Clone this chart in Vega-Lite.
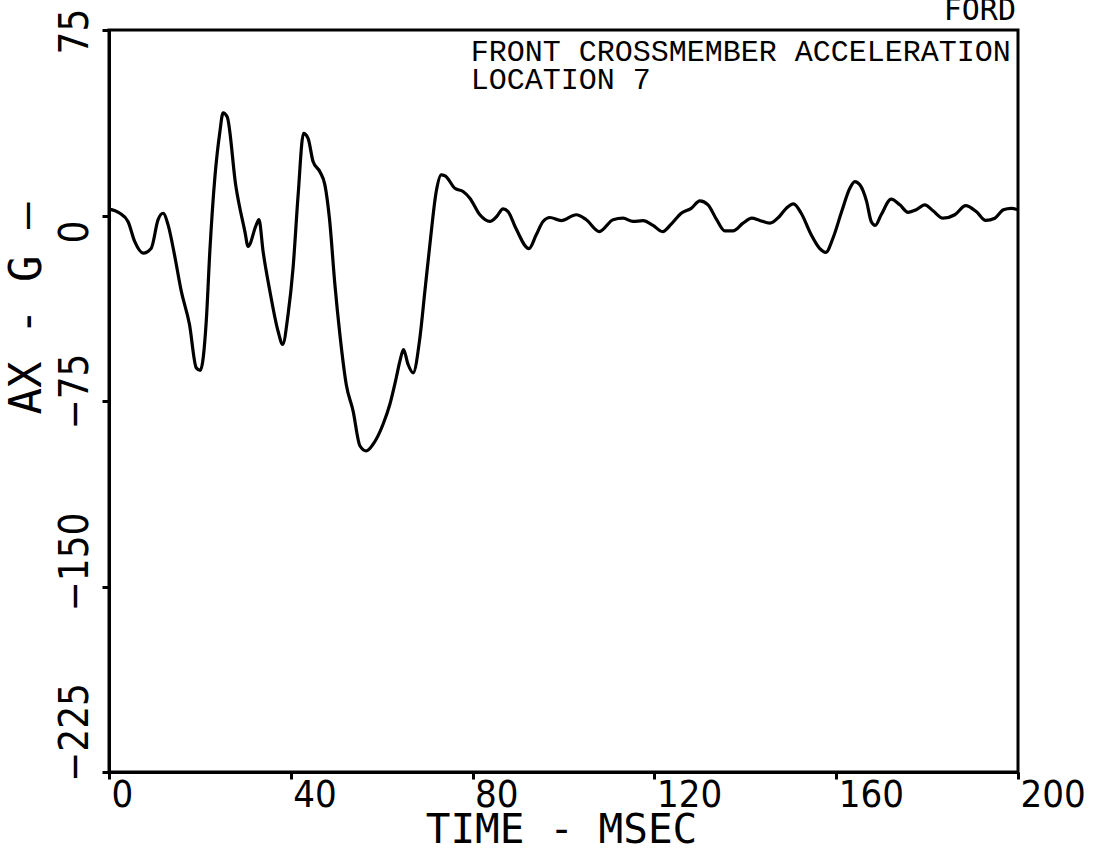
{
  "$schema": "https://vega.github.io/schema/vega-lite/v6.json",
  "width": 909,
  "height": 742,
  "autosize": "none",
  "padding": {"left": 109, "top": 30, "right": 76, "bottom": 79},
  "background": "white",
  "config": {
    "view": {"stroke": "black", "strokeWidth": 3},
    "axis": {
      "grid": false,
      "domainColor": "black",
      "domainWidth": 3,
      "tickColor": "black",
      "tickWidth": 3,
      "tickSize": 7,
      "labelColor": "black",
      "titleColor": "black",
      "labelFont": "DejaVu Sans Condensed",
      "titleFont": "DejaVu Sans Mono",
      "labelFontWeight": "normal",
      "titleFontWeight": "normal"
    }
  },
  "datasets": {
    "curve": [
      {"t": 0, "v": 2.6}, {"t": 2.3, "v": 1.0}, {"t": 4.2, "v": -2.5}, {"t": 5.65, "v": -10.5},
      {"t": 7.5, "v": -15.2}, {"t": 9.3, "v": -13.2}, {"t": 10.8, "v": -1.7}, {"t": 11.9, "v": 0.9},
      {"t": 13.0, "v": -3.8}, {"t": 14.4, "v": -15.8}, {"t": 15.9, "v": -30.6}, {"t": 17.7, "v": -44},
      {"t": 19.2, "v": -61.6}, {"t": 20.1, "v": -62.6}, {"t": 21.4, "v": -42.7}, {"t": 22.2, "v": -14},
      {"t": 23.3, "v": 15.5}, {"t": 24.4, "v": 33.9}, {"t": 25.1, "v": 41.5}, {"t": 26.0, "v": 39.9},
      {"t": 27.9, "v": 12}, {"t": 29.9, "v": -6.5}, {"t": 30.6, "v": -12.5}, {"t": 32.4, "v": -3.8},
      {"t": 33.0, "v": -1.7}, {"t": 33.9, "v": -14.5}, {"t": 35.4, "v": -30.6}, {"t": 37.2, "v": -46.8},
      {"t": 38.2, "v": -52.1}, {"t": 39.4, "v": -40}, {"t": 40.5, "v": -21.2}, {"t": 41.6, "v": 8},
      {"t": 42.8, "v": 33.2}, {"t": 43.8, "v": 31.2}, {"t": 44.9, "v": 21.8}, {"t": 46.4, "v": 17.7},
      {"t": 47.5, "v": 12.4}, {"t": 48.5, "v": -1.1}, {"t": 49.7, "v": -27.9}, {"t": 50.8, "v": -48.1},
      {"t": 52.2, "v": -68.3}, {"t": 53.7, "v": -79}, {"t": 55.2, "v": -93.1}, {"t": 56.6, "v": -95.2},
      {"t": 58.1, "v": -92.5}, {"t": 60.3, "v": -84.4}, {"t": 61.8, "v": -76.3}, {"t": 63.2, "v": -65.6},
      {"t": 64.0, "v": -58.9}, {"t": 64.8, "v": -54.2}, {"t": 65.8, "v": -60.2}, {"t": 66.9, "v": -63.6},
      {"t": 68.4, "v": -49.5}, {"t": 69.5, "v": -30.6}, {"t": 70.6, "v": -11.8}, {"t": 72.0, "v": 9.7},
      {"t": 73.1, "v": 16.4}, {"t": 73.9, "v": 16.1}, {"t": 76.1, "v": 11}, {"t": 77.9, "v": 9.7},
      {"t": 79.4, "v": 7}, {"t": 81.6, "v": 0.3}, {"t": 83.8, "v": -2.4}, {"t": 85.3, "v": -0.4},
      {"t": 86.7, "v": 2.7}, {"t": 87.8, "v": 1.6}, {"t": 89.6, "v": -5.5}, {"t": 92.4, "v": -13.4},
      {"t": 94.0, "v": -7.8}, {"t": 95.5, "v": -2.4}, {"t": 97.0, "v": -0.8}, {"t": 99.5, "v": -2.1},
      {"t": 102.8, "v": 0.3}, {"t": 105.0, "v": -1.7}, {"t": 107.9, "v": -6.5}, {"t": 110.9, "v": -1.7},
      {"t": 113.1, "v": -1.1}, {"t": 115.3, "v": -2.4}, {"t": 117.5, "v": -2.1}, {"t": 119.7, "v": -4},
      {"t": 121.8, "v": -6.5}, {"t": 123.7, "v": -3.5}, {"t": 125.9, "v": 0.9}, {"t": 128.1, "v": 2.9},
      {"t": 130.0, "v": 5.9}, {"t": 131.8, "v": 4.3}, {"t": 133.7, "v": -1.7}, {"t": 135.5, "v": -6.2},
      {"t": 137.3, "v": -6.2}, {"t": 139.5, "v": -3.1}, {"t": 141.4, "v": -1.1}, {"t": 143.2, "v": -2.0},
      {"t": 145.4, "v": -3.1}, {"t": 147.5, "v": -0.4}, {"t": 149.0, "v": 2.9}, {"t": 150.6, "v": 4.7},
      {"t": 152.3, "v": 0.9}, {"t": 154.5, "v": -7.8}, {"t": 156.3, "v": -13.2}, {"t": 157.7, "v": -14.9},
      {"t": 159.3, "v": -9.1}, {"t": 161.2, "v": 1.6}, {"t": 163.0, "v": 11}, {"t": 164.1, "v": 13.7},
      {"t": 165.2, "v": 12.4}, {"t": 166.7, "v": 5.6}, {"t": 167.7, "v": -2.4}, {"t": 168.6, "v": -4},
      {"t": 169.9, "v": 0.3}, {"t": 172.1, "v": 6.6}, {"t": 174.0, "v": 4.3}, {"t": 175.8, "v": 1.3},
      {"t": 177.6, "v": 2.3}, {"t": 179.5, "v": 4.3}, {"t": 181.3, "v": 1.9}, {"t": 183.5, "v": -1.1},
      {"t": 186.1, "v": 0.3}, {"t": 188.5, "v": 4}, {"t": 190.8, "v": 1.6}, {"t": 192.9, "v": -2},
      {"t": 194.9, "v": -1.1}, {"t": 196.8, "v": 2.3}, {"t": 198.5, "v": 2.9}, {"t": 200, "v": 2.3}
    ],
    "notes": [
      {"t": 79.6, "v": 62.3, "label": "FRONT CROSSMEMBER ACCELERATION"},
      {"t": 79.6, "v": 51.0, "label": "LOCATION 7"}
    ],
    "corner": [
      {"t": 200, "v": 79, "label": "FORD"}
    ]
  },
  "layer": [
    {
      "data": {"name": "curve"},
      "mark": {"type": "line", "color": "black", "strokeWidth": 3.2, "interpolate": "monotone", "clip": true},
      "encoding": {
        "x": {
          "field": "t", "type": "quantitative",
          "scale": {"domain": [0, 200], "nice": false, "zero": false},
          "axis": {
            "title": "TIME - MSEC",
            "values": [0, 40, 80, 120, 160, 200],
            "labelFontSize": 38,
            "labelAlign": "left",
            "labelBaseline": "alphabetic",
            "labelPadding": 27,
            "labelOffset": 2,
            "labelFlush": false,
            "labelOverlap": false,
            "titleFontSize": 41,
            "titleBaseline": "alphabetic",
            "titleAlign": "center",
            "titleY": 70,
            "titleX": 452
          }
        },
        "y": {
          "field": "v", "type": "quantitative",
          "scale": {"domain": [-225, 75], "nice": false, "zero": false},
          "axis": {
            "title": "AX - G  —",
            "values": [-225, -150, -75, 0, 75],
            "labelAngle": 270,
            "labelAlign": "center",
            "labelBaseline": "alphabetic",
            "labelFontSize": 40,
            "labelPadding": 15,
            "labelOffset": {"expr": "datum.value == 0 ? 16 : datum.value == -75 ? -10 : datum.value == -150 ? -25 : datum.value == -225 ? -40 : 1"},
            "labelFlush": false,
            "labelOverlap": false,
            "titleFontSize": 44,
            "titleAngle": 270,
            "titleAlign": "center",
            "titleBaseline": "alphabetic",
            "titleX": -69,
            "titleY": 278
          }
        }
      }
    },
    {
      "data": {"name": "notes"},
      "mark": {"type": "text", "font": "Liberation Mono", "fontSize": 30, "align": "left", "baseline": "alphabetic", "color": "black"},
      "encoding": {
        "x": {"field": "t", "type": "quantitative"},
        "y": {"field": "v", "type": "quantitative"},
        "text": {"field": "label", "type": "nominal"}
      }
    },
    {
      "data": {"name": "corner"},
      "mark": {"type": "text", "font": "DejaVu Sans Mono", "fontSize": 30, "align": "right", "baseline": "alphabetic", "color": "black", "dx": -2},
      "encoding": {
        "x": {"field": "t", "type": "quantitative"},
        "y": {"field": "v", "type": "quantitative"},
        "text": {"field": "label", "type": "nominal"}
      }
    }
  ]
}
